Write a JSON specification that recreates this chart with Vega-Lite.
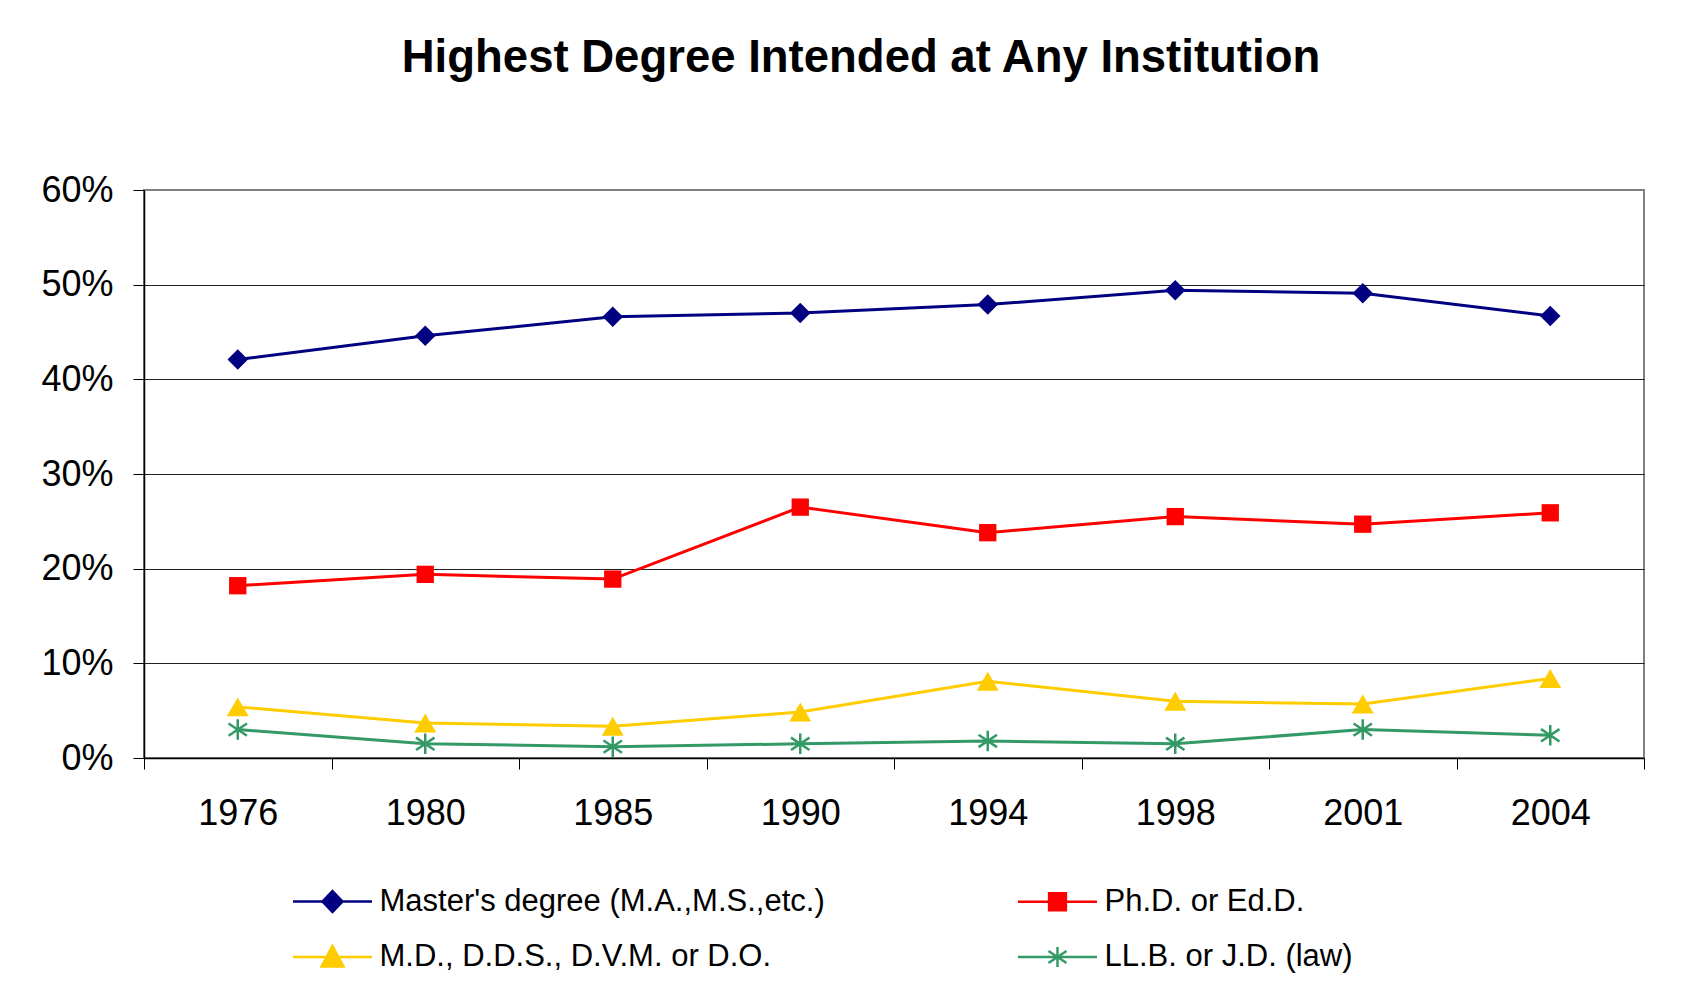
{
  "$schema": "https://vega.github.io/schema/vega-lite/v6.json",
  "width": 1500,
  "height": 568,
  "autosize": {"type": "none"},
  "padding": {"left": 144, "top": 190, "right": 54, "bottom": 233},
  "background": "white",
  "title": {
    "text": "Highest Degree Intended at Any Institution",
    "fontSize": 45.5,
    "font": "Liberation Sans",
    "fontWeight": "bold",
    "color": "black",
    "anchor": "middle",
    "frame": "group",
    "baseline": "alphabetic",
    "offset": 55,
    "dx": -33
  },
  "data": {
    "values": [
      {"year": "1976", "series": "Master's degree (M.A.,M.S.,etc.)", "value": 0.421},
      {"year": "1980", "series": "Master's degree (M.A.,M.S.,etc.)", "value": 0.446},
      {"year": "1985", "series": "Master's degree (M.A.,M.S.,etc.)", "value": 0.466},
      {"year": "1990", "series": "Master's degree (M.A.,M.S.,etc.)", "value": 0.470},
      {"year": "1994", "series": "Master's degree (M.A.,M.S.,etc.)", "value": 0.479},
      {"year": "1998", "series": "Master's degree (M.A.,M.S.,etc.)", "value": 0.494},
      {"year": "2001", "series": "Master's degree (M.A.,M.S.,etc.)", "value": 0.491},
      {"year": "2004", "series": "Master's degree (M.A.,M.S.,etc.)", "value": 0.467},
      {"year": "1976", "series": "Ph.D. or Ed.D.", "value": 0.182},
      {"year": "1980", "series": "Ph.D. or Ed.D.", "value": 0.194},
      {"year": "1985", "series": "Ph.D. or Ed.D.", "value": 0.189},
      {"year": "1990", "series": "Ph.D. or Ed.D.", "value": 0.265},
      {"year": "1994", "series": "Ph.D. or Ed.D.", "value": 0.238},
      {"year": "1998", "series": "Ph.D. or Ed.D.", "value": 0.255},
      {"year": "2001", "series": "Ph.D. or Ed.D.", "value": 0.247},
      {"year": "2004", "series": "Ph.D. or Ed.D.", "value": 0.259},
      {"year": "1976", "series": "M.D., D.D.S., D.V.M. or D.O.", "value": 0.054},
      {"year": "1980", "series": "M.D., D.D.S., D.V.M. or D.O.", "value": 0.037},
      {"year": "1985", "series": "M.D., D.D.S., D.V.M. or D.O.", "value": 0.0335},
      {"year": "1990", "series": "M.D., D.D.S., D.V.M. or D.O.", "value": 0.0485},
      {"year": "1994", "series": "M.D., D.D.S., D.V.M. or D.O.", "value": 0.081},
      {"year": "1998", "series": "M.D., D.D.S., D.V.M. or D.O.", "value": 0.060},
      {"year": "2001", "series": "M.D., D.D.S., D.V.M. or D.O.", "value": 0.057},
      {"year": "2004", "series": "M.D., D.D.S., D.V.M. or D.O.", "value": 0.084},
      {"year": "1976", "series": "LL.B. or J.D. (law)", "value": 0.030},
      {"year": "1980", "series": "LL.B. or J.D. (law)", "value": 0.015},
      {"year": "1985", "series": "LL.B. or J.D. (law)", "value": 0.012},
      {"year": "1990", "series": "LL.B. or J.D. (law)", "value": 0.015},
      {"year": "1994", "series": "LL.B. or J.D. (law)", "value": 0.018},
      {"year": "1998", "series": "LL.B. or J.D. (law)", "value": 0.015},
      {"year": "2001", "series": "LL.B. or J.D. (law)", "value": 0.030},
      {"year": "2004", "series": "LL.B. or J.D. (law)", "value": 0.024}
    ]
  },
  "encoding": {
    "x": {
      "field": "year",
      "type": "ordinal",
      "scale": {"paddingInner": 0, "paddingOuter": 0},
      "axis": {
        "title": null,
        "labelAngle": 0,
        "tickBand": "extent",
        "tickSize": 11,
        "tickColor": "black",
        "tickWidth": 1,
        "labelPadding": 27.5,
        "labelFontSize": 36,
        "labelFont": "Liberation Sans",
        "labelColor": "black",
        "domainColor": "black",
        "domainWidth": 1.5,
        "grid": false
      }
    },
    "y": {
      "field": "value",
      "type": "quantitative",
      "scale": {"domain": [0, 0.6], "nice": false},
      "axis": {
        "title": null,
        "values": [0, 0.1, 0.2, 0.3, 0.4, 0.5, 0.6],
        "format": ".0%",
        "tickSize": 11,
        "tickColor": "black",
        "tickWidth": 1,
        "labelPadding": 20,
        "labelFontSize": 36,
        "labelFont": "Liberation Sans",
        "labelColor": "black",
        "domainColor": "black",
        "domainWidth": 1.5,
        "grid": true,
        "gridColor": "#222222",
        "gridWidth": 1,
        "gridOpacity": {"condition": {"test": "datum.value > 0.59", "value": 0}, "value": 1}
      }
    },
    "color": {
      "field": "series",
      "type": "nominal",
      "scale": {
        "domain": ["Master's degree (M.A.,M.S.,etc.)", "M.D., D.D.S., D.V.M. or D.O.", "Ph.D. or Ed.D.", "LL.B. or J.D. (law)"],
        "range": ["#000080", "#FFCC00", "#FF0000", "#339966"]
      },
      "legend": {
        "title": null,
        "orient": "none",
        "legendX": 149,
        "legendY": 690,
        "columns": 2,
        "columnPadding": 188,
        "rowPadding": 18.5,
        "padding": 0,
        "labelFontSize": 31,
        "labelFont": "Liberation Sans",
        "labelColor": "black",
        "labelLimit": 1000,
        "labelOffset": 25.5,
        "symbolOffset": 18,
        "symbolSize": 1600,
        "symbolStrokeWidth": 2.5,
        "symbolOpacity": 1,
        "encode": {
          "symbols": {
            "update": {
              "shape": {"signal": "['M-1.975,0H1.975M0,-0.52L0.5,0L0,0.52L-0.5,0Z','M-1.975,0H1.975M0,-0.55L0.55,0.48L-0.55,0.48Z','M-1.975,0H1.975M-0.42,-0.42H0.42V0.42H-0.42Z','M-1.975,0H1.975M-0.45,-0.3L0.45,0.3M0.45,-0.3L-0.45,0.3M0,-0.5L0,0.5'][datum.index]"},
              "fill": {"scale": "color", "field": "value"},
              "stroke": {"scale": "color", "field": "value"},
              "strokeWidth": {"value": 2.5},
              "opacity": {"value": 1}
            }
          }
        }
      }
    }
  },
  "layer": [
    {"mark": {"type": "line", "strokeWidth": 3}},
    {
      "transform": [{"filter": "datum.series == 'Master\\'s degree (M.A.,M.S.,etc.)'"}],
      "mark": {"type": "point", "filled": true, "opacity": 1, "shape": "diamond", "size": 420}
    },
    {
      "transform": [{"filter": "datum.series == 'Ph.D. or Ed.D.'"}],
      "mark": {"type": "point", "filled": true, "opacity": 1, "shape": "square", "size": 300}
    },
    {
      "transform": [{"filter": "datum.series == 'M.D., D.D.S., D.V.M. or D.O.'"}],
      "mark": {"type": "point", "filled": true, "opacity": 1, "shape": "triangle-up", "size": 480}
    },
    {
      "transform": [{"filter": "datum.series == 'LL.B. or J.D. (law)'"}],
      "mark": {
        "type": "point",
        "filled": false,
        "opacity": 1,
        "shape": "M-0.9,-0.6L0.9,0.6M0.9,-0.6L-0.9,0.6M0,-1L0,1",
        "size": 420,
        "strokeWidth": 2.5
      }
    }
  ],
  "config": {
    "view": {"stroke": "#808080", "strokeWidth": 2}
  }
}
